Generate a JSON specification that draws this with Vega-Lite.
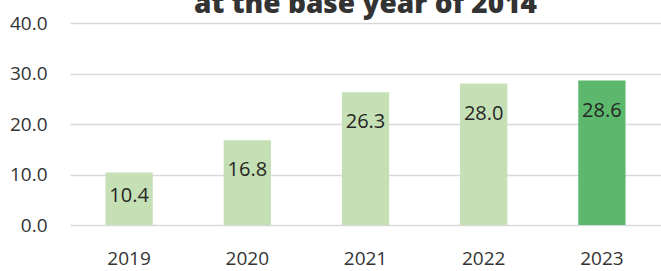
{
  "$schema": "https://vega.github.io/schema/vega-lite/v6.json",
  "autosize": {"type": "none"},
  "padding": {"left": 70, "top": 23, "right": 0, "bottom": 46},
  "width": 591,
  "height": 202,
  "background": "white",
  "config": {"view": {"stroke": null}},
  "title": {
    "text": "at the base year of 2014",
    "font": "Open Sans",
    "fontSize": 28,
    "fontWeight": 800,
    "color": "#333333",
    "anchor": "middle",
    "offset": -5
  },
  "data": {
    "values": [
      {"year": "2019", "value": 10.4},
      {"year": "2020", "value": 16.8},
      {"year": "2021", "value": 26.3},
      {"year": "2022", "value": 28.0},
      {"year": "2023", "value": 28.6}
    ]
  },
  "encoding": {
    "x": {
      "field": "year",
      "type": "nominal",
      "scale": {"paddingInner": 0.6, "paddingOuter": 0.3},
      "axis": {
        "title": null,
        "labelAngle": 0,
        "domain": false,
        "ticks": false,
        "labelPadding": 24,
        "labelFont": "Open Sans",
        "labelFontSize": 19,
        "labelColor": "#333333"
      }
    },
    "y": {
      "field": "value",
      "type": "quantitative",
      "scale": {"domain": [0, 40]},
      "axis": {
        "title": null,
        "values": [0, 10, 20, 30, 40],
        "format": ".1f",
        "domain": false,
        "ticks": false,
        "grid": true,
        "gridColor": "#d9d9d9",
        "gridWidth": 1.5,
        "labelPadding": 23,
        "labelFont": "Open Sans",
        "labelFontSize": 19,
        "labelColor": "#333333"
      }
    }
  },
  "layer": [
    {
      "mark": {"type": "bar"},
      "encoding": {
        "color": {
          "condition": {"test": "datum.year === '2023'", "value": "#5cb86c"},
          "value": "#c5e0b4"
        }
      }
    },
    {
      "mark": {
        "type": "text",
        "baseline": "middle",
        "dy": {"expr": "datum.value < 12 ? 24 : 30"},
        "font": "Open Sans",
        "fontSize": 20,
        "color": "#262626"
      },
      "encoding": {
        "text": {"field": "value", "type": "quantitative", "format": ".1f"}
      }
    }
  ]
}
